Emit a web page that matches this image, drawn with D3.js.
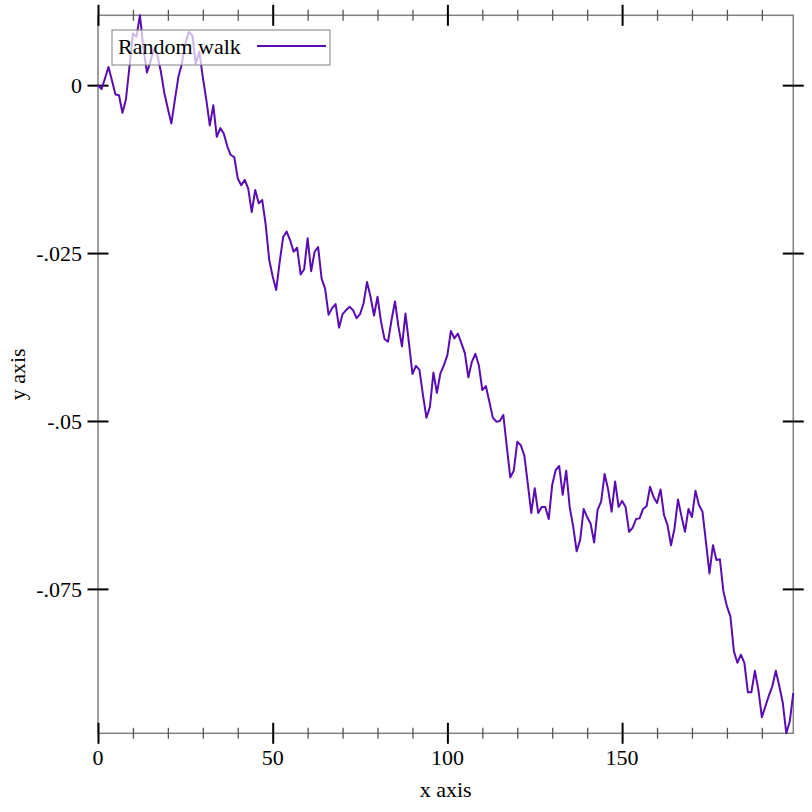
<!DOCTYPE html>
<html>
<head>
<meta charset="utf-8">
<script src="https://cdn.jsdelivr.net/npm/d3@7"></script>
<style>
  body { margin: 0; background: #fff; }
  text { font-family: "Liberation Serif", "DejaVu Serif", serif; }
</style>
</head>
<body>
<div id="my_dataviz"></div>
<script>
'use strict';

// random walk values, one per step (step = index)
const walk = [
  0, -0.0006, 0.0010, 0.0027, 0.0007, -0.0014, -0.0015, -0.0041, -0.0021, 0.0027,
  0.0077, 0.0072, 0.0104, 0.0055, 0.0019, 0.0035, 0.0055, 0.0045, 0.0020, -0.0012,
  -0.0035, -0.0057, -0.0022, 0.0012, 0.0032, 0.0062, 0.0079, 0.0074, 0.0032, 0.0050,
  0.0012, -0.0022, -0.0060, -0.0030, -0.0077, -0.0064, -0.0072, -0.0091, -0.0104, -0.0107,
  -0.0139, -0.0149, -0.0141, -0.0154, -0.0189, -0.0156, -0.0176, -0.0171, -0.0208, -0.0260,
  -0.0285, -0.0305, -0.0263, -0.0226, -0.0218, -0.0231, -0.0248, -0.0242, -0.0282, -0.0274,
  -0.0228, -0.0277, -0.0248, -0.0241, -0.0288, -0.0303, -0.0342, -0.0332, -0.0326, -0.0361,
  -0.0341, -0.0335, -0.0330, -0.0335, -0.0347, -0.0341, -0.0325, -0.0293, -0.0315, -0.0343,
  -0.0315, -0.0352, -0.0378, -0.0382, -0.0350, -0.0322, -0.0360, -0.0389, -0.0340, -0.0384,
  -0.0430, -0.0418, -0.0424, -0.0461, -0.0495, -0.0479, -0.0428, -0.0458, -0.0429, -0.0417,
  -0.0402, -0.0366, -0.0377, -0.0370, -0.0384, -0.0399, -0.0435, -0.0412, -0.0400, -0.0417,
  -0.0454, -0.0448, -0.0471, -0.0495, -0.0501, -0.0500, -0.0491, -0.0538, -0.0584, -0.0574,
  -0.0531, -0.0536, -0.0551, -0.0593, -0.0637, -0.0600, -0.0637, -0.0628, -0.0628, -0.0646,
  -0.0595, -0.0573, -0.0567, -0.0610, -0.0574, -0.0628, -0.0657, -0.0694, -0.0677, -0.0631,
  -0.0643, -0.0653, -0.0681, -0.0632, -0.0620, -0.0579, -0.0602, -0.0635, -0.0590, -0.0628,
  -0.0619, -0.0628, -0.0665, -0.0659, -0.0646, -0.0645, -0.0631, -0.0627, -0.0598, -0.0613,
  -0.0622, -0.0602, -0.0640, -0.0655, -0.0685, -0.0660, -0.0617, -0.0642, -0.0665, -0.0631,
  -0.0643, -0.0604, -0.0625, -0.0635, -0.0680, -0.0727, -0.0685, -0.0707, -0.0706, -0.0754,
  -0.0776, -0.0791, -0.0843, -0.0860, -0.0848, -0.0860, -0.0904, -0.0904, -0.0872, -0.0900,
  -0.0941, -0.0925, -0.0909, -0.0895, -0.0872, -0.0895, -0.0920, -0.0965, -0.0947, -0.0905
];

const xMajorTicks = [0, 50, 100, 150];
const xMinorTicks = [10, 20, 30, 40, 60, 70, 80, 90, 110, 120, 130, 140, 160, 170, 180, 190];
const yMajorTicks = [0, -0.025, -0.05, -0.075];
const yTickLabels = ["0", "-.025", "-.05", "-.075"];
const seriesName = "Random walk";

// plot box in page pixels
let plotLeft = 98, plotRight = 793.3, plotTop = 15.3, plotBottom = 733.3;
let fontSize = "22px";

let svg = d3.select("#my_dataviz")
  .append("svg")
    .attr("width", 812)
    .attr("height", 812);

let x = d3.scaleLinear()
  .domain([0, walk.length - 1])
  .range([plotLeft, plotRight]);

let y = d3.scaleLinear()
  .domain(d3.extent(walk))
  .range([plotBottom, plotTop]);

// frame
svg.append("rect")
  .attr("x", plotLeft).attr("y", plotTop)
  .attr("width", plotRight - plotLeft).attr("height", plotBottom - plotTop)
  .attr("fill", "none")
  .attr("stroke", "#808080")
  .attr("stroke-width", 1.5);

// ticks that cross the frame, both sides
function tickGroup(axis, tx, ty, color, width) {
  let g = svg.append("g")
    .attr("transform", "translate(" + tx + "," + ty + ")")
    .call(axis);
  g.select(".domain").remove();
  g.selectAll("text").remove();
  g.selectAll("line").attr("stroke", color).attr("stroke-width", width);
}

tickGroup(d3.axisBottom(x).tickValues(xMajorTicks).tickSize(21), 0, plotBottom - 10.5, "#000", 2);
tickGroup(d3.axisBottom(x).tickValues(xMinorTicks).tickSize(11), 0, plotBottom - 5.5, "#555", 1.3);
tickGroup(d3.axisTop(x).tickValues(xMajorTicks).tickSize(21), 0, plotTop + 10.5, "#000", 2);
tickGroup(d3.axisTop(x).tickValues(xMinorTicks).tickSize(11), 0, plotTop + 5.5, "#555", 1.3);
tickGroup(d3.axisLeft(y).tickValues(yMajorTicks).tickSize(21), plotLeft + 10.5, 0, "#000", 2);
tickGroup(d3.axisRight(y).tickValues(yMajorTicks).tickSize(21), plotRight - 10.5, 0, "#000", 2);

// tick labels
svg.selectAll(".xlab")
  .data(xMajorTicks)
  .enter()
  .append("text")
    .attr("x", d => x(d))
    .attr("y", 765)
    .attr("text-anchor", "middle")
    .style("font-size", fontSize)
    .text(d => d);

svg.selectAll(".ylab")
  .data(yMajorTicks)
  .enter()
  .append("text")
    .attr("x", 82)
    .attr("y", d => y(d))
    .attr("dy", "0.35em")
    .attr("text-anchor", "end")
    .style("font-size", fontSize)
    .text((d, i) => yTickLabels[i]);

// axis titles
svg.append("text")
  .attr("x", (plotLeft + plotRight) / 2)
  .attr("y", 797)
  .attr("text-anchor", "middle")
  .style("font-size", fontSize)
  .text("x axis");

svg.append("text")
  .attr("transform", "translate(25," + ((plotTop + plotBottom) / 2) + ") rotate(-90)")
  .attr("text-anchor", "middle")
  .style("font-size", fontSize)
  .text("y axis");

// the walk
let line = d3.line()
  .x((d, i) => x(i))
  .y(d => y(d));

svg.append("path")
  .datum(walk)
  .attr("fill", "none")
  .attr("stroke", "#5a0cb4")
  .attr("stroke-width", 2)
  .attr("stroke-linejoin", "round")
  .attr("d", line);

// legend
let legend = svg.append("g");
legend.append("rect")
  .attr("x", 112).attr("y", 30)
  .attr("width", 218).attr("height", 35)
  .attr("fill", "#fff")
  .attr("fill-opacity", 0.7)
  .attr("stroke", "#808080")
  .attr("stroke-width", 1);
legend.append("text")
  .attr("x", 118)
  .attr("y", 54)
  .style("font-size", fontSize)
  .text(seriesName);
legend.append("line")
  .attr("x1", 257).attr("x2", 326)
  .attr("y1", 46).attr("y2", 46)
  .attr("stroke", "#5a0cb4")
  .attr("stroke-width", 2);
</script>
</body>
</html>
